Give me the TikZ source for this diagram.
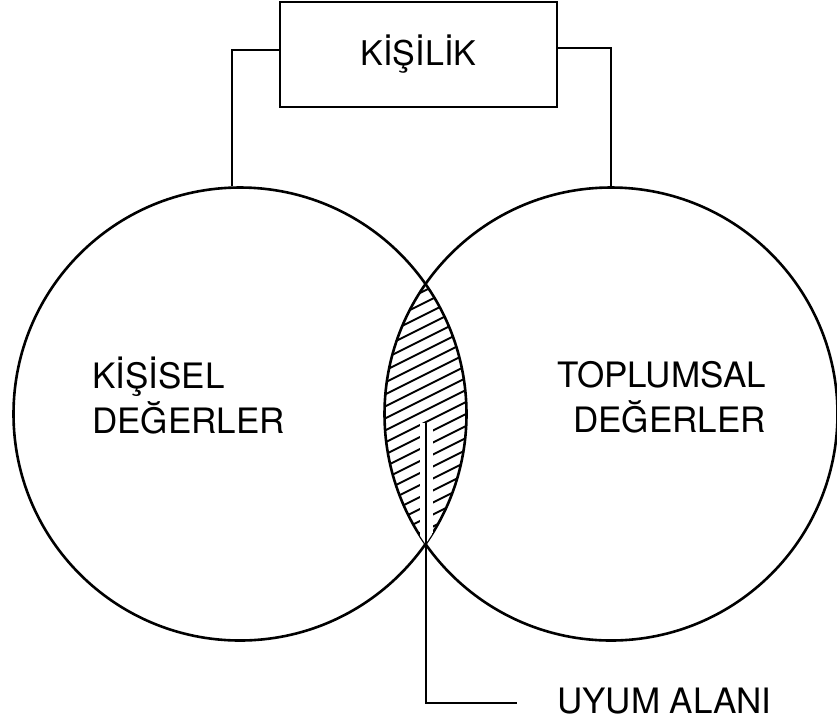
\documentclass[tikz,border=0pt]{standalone}
\usepackage{fontspec}
\setmainfont{TeX Gyre Heros}
\tikzset{
  daire/.style={circle, draw, line width=2.6pt, minimum size=453pt, inner sep=0pt},
  kutu/.style={draw, line width=2.8pt, minimum width=277pt, minimum height=105pt, inner sep=0pt},
  yazi/.style={font=\fontsize{35}{45}\selectfont, inner sep=0pt},
  hat/.style={line width=2.8pt},
  ince/.style={line width=2.2pt},
  tarama/.style={line width=1.9pt}
}
\begin{document}
\begin{tikzpicture}[x=1pt,y=-1pt]
\useasboundingbox (0,0) rectangle (837,724);

\node[daire] (kisisel) at (240,414) {};
\node[daire] (toplumsal) at (611,414) {};

\begin{scope}
\clip (kisisel.center) circle[radius=226.5];
\clip (toplumsal.center) circle[radius=226.5];
\foreach \k in {270,282,...,630}
  \draw[tarama] (370,\k) -- ++(120,-60);
\draw[white, line width=13pt] (426,423) -- (426,560);
\end{scope}

\node[kutu, yazi, font=\fontsize{34}{40}\selectfont] (kisilik) at (418.5,54.5) {KİŞİLİK};

\draw[hat] ([yshift=4.5pt]kisilik.west) -| (kisisel.92);
\draw[hat] ([yshift=6.5pt]kisilik.east) -| (toplumsal.north);

\node[yazi, align=left, anchor=west] (kisiselyazi) at (92,396) {KİŞİSEL\\DEĞERLER};
\node[yazi, align=right, anchor=east] (toplumsalyazi) at (766,397) {TOPLUMSAL\\DEĞERLER};

\node[yazi, anchor=west] (uyum) at (557,701) {UYUM ALANI};
\coordinate (uyumuc) at (426,423);
\coordinate (uyumson) at (517,703);
\draw[ince] (uyumuc) |- (uyumson);
\end{tikzpicture}
\end{document}
